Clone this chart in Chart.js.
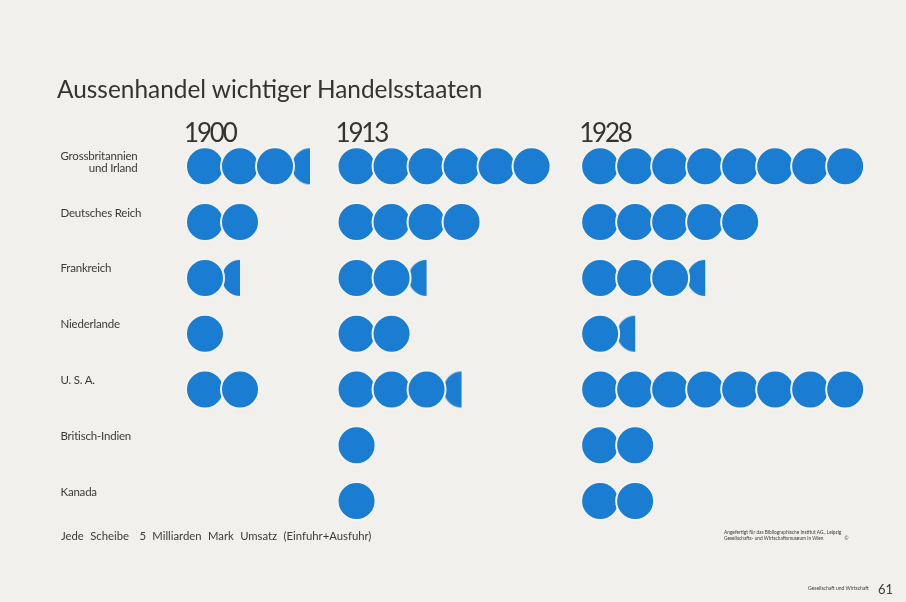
<!DOCTYPE html>
<html><head><meta charset="utf-8">
<script src="https://cdn.jsdelivr.net/npm/chart.js@4/dist/chart.umd.min.js"></script>
<style>
html,body{margin:0;padding:0;background:#f1f0ec;}
#wrap{position:relative;width:906px;height:602px;overflow:hidden;font-family:Lato,'Open Sans',sans-serif;color:#3a3a3a;background:#f1f0ec;}
canvas{position:absolute;left:0;top:0;}
.t{position:absolute;white-space:nowrap;line-height:1;}
#title{left:57px;top:77.3px;font-size:24.4px;color:#333;}
.year{font-size:26px;letter-spacing:-2.2px;color:#333;}
.lab{font-size:11.5px;line-height:12px;display:inline-block;letter-spacing:-0.2px;}
#foot{left:61px;top:529.5px;font-size:11.3px;word-spacing:3.5px;}
.tiny{font-size:4.8px;line-height:6.6px;}
</style></head><body>
<div id="wrap"><canvas id="c" width="906" height="602"></canvas>
<div class="t" id="title">Aussenhandel wichtiger Handelsstaaten</div>
<div class="t" id="foot">Jede Scheibe<span style="display:inline-block;width:4px"></span> 5 Milliarden Mark Umsatz (Einfuhr+Ausfuhr)</div>
<div class="t tiny" style="left:724px;top:528.5px;">Angefertigt für das Bibliographische Institut AG., Leipzig<br>Gesellschafts- und Wirtschaftsmuseum in Wien&nbsp;&nbsp;&nbsp;&nbsp;&nbsp;&nbsp;&nbsp;&nbsp;&nbsp;&nbsp;&nbsp;&nbsp;&nbsp;&nbsp;&nbsp;&nbsp;&nbsp;©</div>
<div class="t" style="left:808px;top:586px;font-size:5px;">Gesellschaft und Wirtschaft</div>
<div class="t" style="left:878px;top:582.7px;font-size:13px;">61</div>
</div>
<script>
// ---- data (one disc = 5 Milliarden Mark Umsatz) ----
const countries = [['Grossbritannien','und Irland'],'Deutsches Reich','Frankreich','Niederlande','U. S. A.','Britisch-Indien','Kanada'];
const years = ['1900','1913','1928'];
const trade1900 = [3.5, 2, 1.5, 1, 2, 0, 0];
const trade1913 = [6, 4, 2.5, 2, 3.5, 1, 1];
const trade1928 = [8, 5, 3.5, 1.5, 8, 2, 2];
const seriesByYear = [trade1900, trade1913, trade1928];

// ---- layout (disc units along x) ----
const columnStart = [0, 4.33, 11.29];
const BLUE = '#1a7dd2';
const BG = '#f4f3ef';

const fullPts = [], partPts = [], partStyles = [];
function partialCanvas(frac){
  const c = document.createElement('canvas');
  c.width = 40; c.height = 40;
  const g = c.getContext('2d');
  g.beginPath(); g.rect(0, 0, 2 + 36*frac, 40); g.clip();
  g.beginPath(); g.arc(20, 20, 18, 0, Math.PI*2); g.fillStyle = BLUE; g.fill();
  return c;
}
seriesByYear.forEach((vals, j) => {
  vals.forEach((v, i) => {
    const n = Math.floor(v);
    for (let k = 0; k < n; k++) fullPts.push({x: columnStart[j] + k, y: i});
    const f = v - n;
    if (f > 0) { partPts.push({x: columnStart[j] + n, y: i}); partStyles.push(partialCanvas(f)); }
  });
});

const wrap = document.getElementById('wrap');
const labelEls = countries.map(c => {
  const d = document.createElement('div');
  d.className = 't';
  const s = document.createElement('span');
  s.className = 'lab';
  if (Array.isArray(c)) { s.style.textAlign = 'right'; s.innerHTML = c.join('<br>'); }
  else s.textContent = c;
  d.appendChild(s); wrap.appendChild(d);
  return d;
});
const yearEls = years.map(y => {
  const d = document.createElement('div');
  d.className = 't year'; d.textContent = y; wrap.appendChild(d); return d;
});

const placeText = {
  id: 'placeText',
  afterRender(chart){
    const xs = chart.scales.x, ys = chart.scales.y;
    countries.forEach((c, i) => {
      const cy = ys.getPixelForValue(i);
      const base = Array.isArray(c) ? cy - 6 : cy - 9;
      labelEls[i].style.left = '60.5px';
      labelEls[i].style.top = (base - 10.44) + 'px';
    });
    years.forEach((y, j) => {
      const cx = xs.getPixelForValue(columnStart[j]);
      yearEls[j].style.left = (cx - 21) + 'px';
      yearEls[j].style.top = (142 - 0.87*26) + 'px';
    });
  }
};

new Chart(document.getElementById('c'), {
  type: 'scatter',
  data: {
    datasets: [
      { label: 'Scheiben', data: fullPts, order: 1,
        pointStyle: 'circle', pointRadius: 19, pointBorderWidth: 2,
        backgroundColor: BLUE, borderColor: BG, pointHoverRadius: 19 },
      { label: 'Teilscheiben', data: partPts, order: 2,
        pointStyle: partStyles, pointRadius: 20, backgroundColor: BLUE, borderColor: BLUE }
    ]
  },
  options: {
    responsive: false,
    animation: false,
    events: [],
    layout: { autoPadding: false, padding: { left: 170, right: 1, top: 138.4, bottom: 73 } },
    plugins: { legend: { display: false }, tooltip: { enabled: false }, title: { display: false } },
    scales: {
      x: { type: 'linear', min: -1, max: 20, display: false },
      y: { type: 'linear', min: -0.5, max: 6.5, reverse: true, display: false }
    }
  },
  plugins: [placeText]
});
</script>
</body></html>
